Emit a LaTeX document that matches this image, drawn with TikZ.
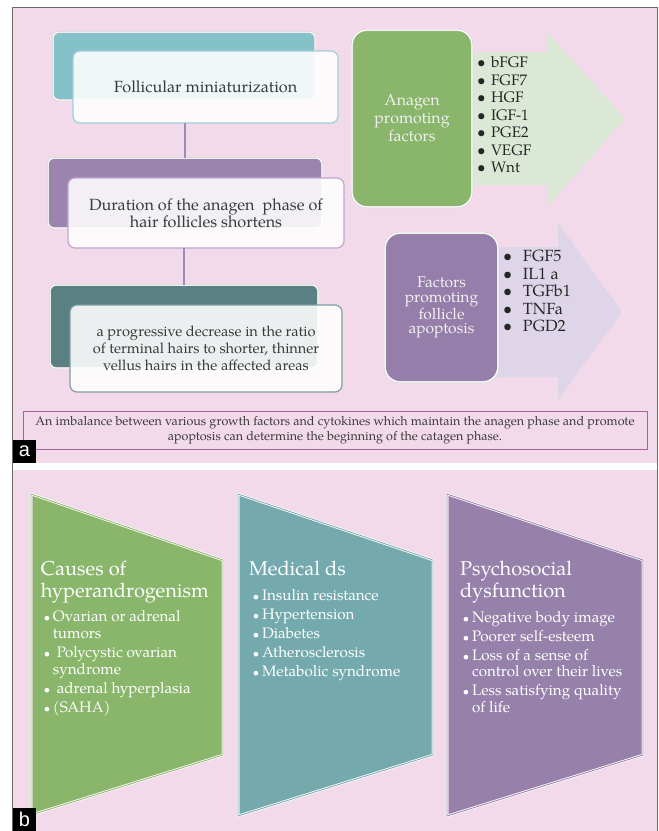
\documentclass[tikz,border=0pt]{standalone}
\usepackage{fontspec}
\setmainfont{TeX Gyre Pagella}
\newfontfamily\labelfont{Liberation Sans}
\usetikzlibrary{calc}
\definecolor{pinkbg}{HTML}{F2DAEA}
\definecolor{tealA}{HTML}{84C1C9}
\definecolor{purpA}{HTML}{9B84AD}
\definecolor{dtealA}{HTML}{5B8084}
\definecolor{greenA}{HTML}{89B66B}
\definecolor{purpB}{HTML}{957EAA}
\definecolor{lgreen}{HTML}{DCE8D6}
\definecolor{lpurp}{HTML}{DED6E8}
\definecolor{bgreen}{HTML}{8AB66C}
\definecolor{bteal}{HTML}{74AAAD}
\definecolor{bpurp}{HTML}{9581A9}
\definecolor{fbA}{HTML}{9FCFDB}
\definecolor{fbB}{HTML}{BFA8CF}
\definecolor{fbC}{HTML}{7E9EA3}
\definecolor{linec}{HTML}{9A8CB5}
\definecolor{notec}{HTML}{A4629E}
\definecolor{txtc}{HTML}{3A3A3A}
\definecolor{framec}{HTML}{6A6A6A}
\newcommand\sbul{\makebox[14pt][l]{\textbullet}}
\newcommand\pbul{\makebox[20pt][l]{\textbullet}}
\newcommand\bbul{\makebox[12pt][c]{\scalebox{0.75}{\textbullet}}}
\newcommand\bind{\hspace*{12pt}}
\begin{document}
\begin{tikzpicture}[x=1pt,y=-1pt,
  backbox/.style={rectangle, rounded corners=6pt, inner sep=0, outer sep=0,
    draw=gray!40, double=white, double distance=1pt, line width=0.4pt},
  frontbox/.style={rectangle, rounded corners=7pt, inner sep=0, outer sep=0,
    fill=white, fill opacity=0.88, text opacity=1, line width=1.2pt,
    align=center, text=txtc},
  factbox/.style={rectangle, rounded corners=15pt, inner sep=0, outer sep=0,
    draw=gray!40, double=white, double distance=1.2pt, line width=0.4pt,
    align=center, text=white!94!black},
  listtxt/.style={anchor=base west, inner sep=0, outer sep=0, text=black!85},
  trap/.style={draw=white, double distance=0.8pt, line width=0.7pt},
  btxt/.style={anchor=base west, inner sep=0, outer sep=0, text=white},
  conn/.style={draw=linec, line width=1.3pt},
  lab/.style={fill=black, text=white, minimum size=23pt, inner sep=0,
    font=\labelfont\fontsize{20}{20}\selectfont}
]
\useasboundingbox (0,0) rectangle (659,831);
\fill[white] (0,0) rectangle (659,831);
\fill[pinkbg] (12.5,7) rectangle (657,463);
\fill[pinkbg] (12.5,470) rectangle (657,831);
\draw[framec, line width=0.8pt] (12.5,831) -- (12.5,7) -- (657,7) -- (657,831);

% ---------- panel a : arrows ----------
\fill[lgreen] (440,52) -- (547,52) -- (547,32) -- (625,118.5) -- (547,207)
  -- (547,185) -- (440,185) -- cycle;
\fill[lpurp] (470,247) -- (558,247) -- (558,223) -- (622,312) -- (558,400)
  -- (558,377) -- (470,377) -- cycle;

% ---------- panel a : left flow ----------
\node[backbox, fill=tealA, minimum width=262pt, minimum height=68pt] (b1) at (184,66) {};
\node[backbox, fill=purpA, minimum width=274pt, minimum height=70pt] (b2) at (185,193) {};
\node[backbox, fill=dtealA, minimum width=268pt, minimum height=83pt] (b3) at (184,326.5) {};
\node[frontbox, draw=fbA, minimum width=265pt, minimum height=72pt,
  font=\fontsize{16.2}{17}\selectfont] (f1) at (205.5,87)
  {Follicular miniaturization};
\node[frontbox, draw=fbB, minimum width=276pt, minimum height=70pt,
  font=\fontsize{16.2}{17}\selectfont] (f2) at (206,213)
  {Duration of the anagen\ \ phase of\\hair follicles shortens};
\node[frontbox, draw=fbC, minimum width=272pt, minimum height=87pt,
  font=\fontsize{14.6}{17}\selectfont] (f3) at (206,348.5)
  {a progressive decrease in the ratio\\of terminal hairs to shorter, thinner\\vellus hairs in the affected areas};
\draw[conn] (b2.north |- f1.south) -- (b2.north);
\draw[conn] (b3.north |- f2.south) -- (b3.north);

% ---------- panel a : factor boxes ----------
\node[factbox, fill=greenA, minimum width=120pt, minimum height=177pt,
  font=\fontsize{16}{18}\selectfont] (g1) at (412,118.5) {Anagen\\promoting\\factors};
\node[factbox, fill=purpB, minimum width=113pt, minimum height=149pt,
  font=\fontsize{15.6}{14.8}\selectfont] (p1) at (441.5,307.5) {Factors\\promoting\\follicle\\apoptosis};
\node[listtxt] (gl) at (477,67.5) {\parbox[t]{120pt}{\fontsize{15.2}{17.5}\selectfont
  \sbul bFGF\\\sbul FGF7\\\sbul HGF\\\sbul IGF-1\\\sbul PGE2\\\sbul VEGF\\\sbul Wnt}};
\node[listtxt] (pl) at (503,261.5) {\parbox[t]{110pt}{\fontsize{16.2}{17.6}\selectfont
  \pbul FGF5\\\pbul IL1 a\\\pbul TGFb1\\\pbul TNFa\\\pbul PGD2}};

% ---------- panel a : note ----------
\node[draw=notec, line width=0.9pt, minimum width=624pt, minimum height=38pt, inner sep=0,
  align=center, text=txtc, font=\fontsize{12.55}{15}\selectfont] (note) at (335,430)
  {An imbalance between various growth factors and cytokines which maintain the anagen phase and promote\\apoptosis can determine the beginning of the catagen phase.};
\node[lab] (la) at (24.5,451.5) {a};

% ---------- panel b ----------
\draw[trap, double=bgreen] (31,494) -- (223,560) -- (223,755) -- (31,815) -- cycle;
\draw[trap, double=bteal] (238,494) -- (433,560) -- (433,755) -- (238,816) -- cycle;
\draw[trap, double=bpurp] (447,494) -- (643,560) -- (643,755) -- (447,816) -- cycle;
\fill[bgreen] (32.5,496) -- (221.5,561) -- (221.5,754) -- (32.5,813) -- cycle;
\fill[bteal] (239.5,496) -- (431.5,561) -- (431.5,754) -- (239.5,814) -- cycle;
\fill[bpurp] (448.5,496) -- (641.5,561) -- (641.5,754) -- (448.5,814) -- cycle;

\node[btxt] (h1) at (41,575) {\parbox[t]{185pt}{\fontsize{20}{22}\selectfont Causes of\\hyperandrogenism}};
\node[btxt] (i1) at (41,621) {\parbox[t]{185pt}{\raggedright\fontsize{15.2}{17}\selectfont
  \bbul Ovarian or adrenal\\\bind tumors\\[2pt]\bbul\ Polycystic ovarian\\\bind syndrome\\[2pt]\bbul\ adrenal hyperplasia\\[2pt]\bbul (SAHA)}};
\node[btxt] (h2) at (249,575) {\parbox[t]{185pt}{\fontsize{20}{22}\selectfont Medical ds}};
\node[btxt] (i2) at (250,600) {\parbox[t]{185pt}{\raggedright\fontsize{15.2}{19}\selectfont
  \bbul Insulin resistance\\\bbul Hypertension\\\bbul Diabetes\\\bbul Atherosclerosis\\\bbul Metabolic syndrome}};
\node[btxt] (h3) at (460,575) {\parbox[t]{185pt}{\fontsize{20}{22}\selectfont Psychosocial\\dysfunction}};
\node[btxt] (i3) at (460,622) {\parbox[t]{185pt}{\raggedright\fontsize{15.2}{16.5}\selectfont
  \bbul Negative body image\\[2.5pt]\bbul Poorer self-esteem\\[2.5pt]\bbul Loss of a sense of\\\bind control over their lives\\[2.5pt]\bbul Less satisfying quality\\\bind of life}};
\node[lab] (lb) at (24.5,819.5) {b};
\end{tikzpicture}
\end{document}
